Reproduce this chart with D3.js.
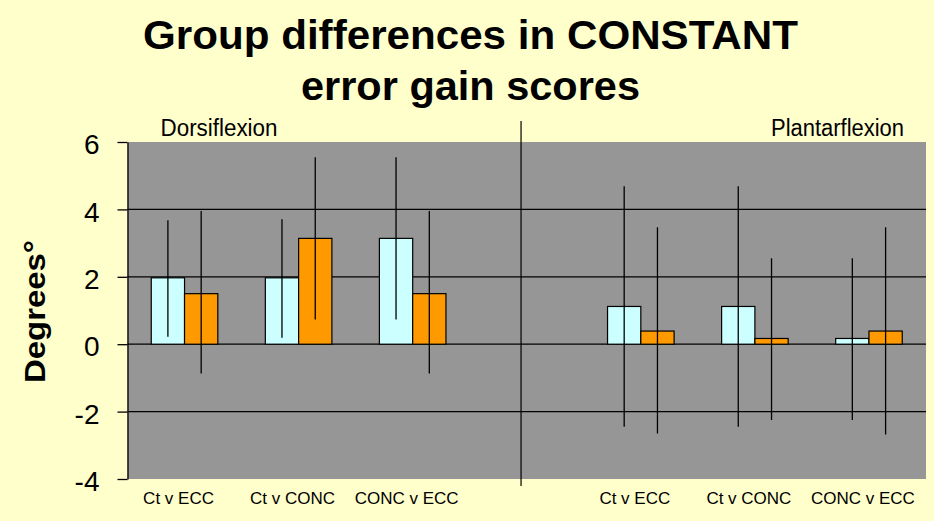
<!DOCTYPE html>
<html>
<head>
<meta charset="utf-8">
<script src="https://cdn.jsdelivr.net/npm/d3@7"></script>
<style>
  html, body { margin: 0; padding: 0; background: #FFFFCC; }
  svg { display: block; font-family: "Liberation Sans", Arial, sans-serif; }
</style>
</head>
<body>
<svg id="chart" width="934" height="521"></svg>
<script>
// ---- data ----
const categories = ["Ct v ECC", "Ct v CONC", "CONC v ECC", "", "Ct v ECC", "Ct v CONC", "CONC v ECC"];
const seriesNames = ["A", "B"];
const valuesA = [1.97, 1.97, 3.14, null, 1.12, 1.12, 0.17];
const upperA  = [3.68, 3.71, 5.55, null, 4.69, 4.69, 2.55];
const lowerA  = [0.22, 0.19, 0.73, null, -2.45, -2.45, -2.25];
const valuesB = [1.50, 3.14, 1.50, null, 0.39, 0.17, 0.39];
const upperB  = [3.95, 5.55, 3.95, null, 3.47, 2.55, 3.47];
const lowerB  = [-0.87, 0.73, -0.87, null, -2.65, -2.25, -2.68];
const yTicks = [-4, -2, 0, 2, 4, 6];
const titleLines = ["Group differences in CONSTANT", "error gain scores"];
const panelLabels = ["Dorsiflexion", "Plantarflexion"];
const yLabel = "Degrees°";

// ---- styles ----
const colors = { A: "#CCFFFF", B: "#FF9900" };
const plotBg = "#969696";

const svg = d3.select("#chart");
const pLeft = 127.5, pRight = 926, pTop = 142, pBottom = 479;

const idx = categories.map((d, i) => i);
const x = d3.scaleBand().domain(idx).range([pLeft, pRight]).paddingInner(0).paddingOuter(0);
const bw = x.bandwidth();
const x1 = d3.scaleBand().domain(seriesNames).range([0, bw]).paddingInner(0).paddingOuter(0.714);
const y = d3.scaleLinear().domain([-4, 6]).range([pBottom, pTop]);

// background plot area
svg.append("rect")
  .attr("x", pLeft).attr("y", y(6))
  .attr("width", pRight - pLeft).attr("height", y(-4) - y(6))
  .attr("fill", plotBg);

// gridlines
svg.append("g").selectAll("line")
  .data(yTicks.filter(t => t > -4 && t < 6))
  .join("line")
  .attr("x1", pLeft).attr("x2", pRight)
  .attr("y1", d => y(d)).attr("y2", d => y(d))
  .attr("stroke", "#000").attr("stroke-width", 1.3);

// y axis
const yAxis = svg.append("g")
  .attr("transform", `translate(${pLeft},0)`)
  .call(d3.axisLeft(y).tickValues(yTicks).tickSize(10).tickSizeOuter(0).tickPadding(18).tickFormat(d3.format("d")));
yAxis.select(".domain").attr("stroke", "#000").attr("stroke-width", 1.3);
yAxis.selectAll(".tick line").attr("stroke", "#000").attr("stroke-width", 1.3);
yAxis.selectAll(".tick text")
  .attr("font-size", 28).attr("fill", "#000")
  .attr("dy", "0.42em")
  .style("font-family", "'Liberation Sans', Arial, sans-serif")
  .text(d => d < 0 ? "-" + Math.abs(d) : d);

// bars
const rows = [];
idx.forEach(i => {
  if (valuesA[i] != null) rows.push({ i, s: "A", v: valuesA[i], hi: upperA[i], lo: lowerA[i] });
  if (valuesB[i] != null) rows.push({ i, s: "B", v: valuesB[i], hi: upperB[i], lo: lowerB[i] });
});

svg.append("g").selectAll("rect")
  .data(rows)
  .join("rect")
  .attr("x", d => x(d.i) + x1(d.s))
  .attr("width", x1.bandwidth())
  .attr("y", d => y(Math.max(0, d.v)))
  .attr("height", d => Math.abs(y(d.v) - y(0)))
  .attr("fill", d => colors[d.s])
  .attr("stroke", "#000").attr("stroke-width", 1.2);

// error bars (no caps)
svg.append("g").selectAll("line")
  .data(rows)
  .join("line")
  .attr("x1", d => x(d.i) + x1(d.s) + x1.bandwidth() / 2)
  .attr("x2", d => x(d.i) + x1(d.s) + x1.bandwidth() / 2)
  .attr("y1", d => y(d.hi)).attr("y2", d => y(d.lo))
  .attr("stroke", "#000").attr("stroke-width", 1.3);

// divider between panels
const divX = x(3) + bw * 0.45;
svg.append("line")
  .attr("x1", divX).attr("x2", divX)
  .attr("y1", 121).attr("y2", 486)
  .attr("stroke", "#000").attr("stroke-width", 1.2);

// x labels
svg.append("g").selectAll("text")
  .data(idx.filter(i => categories[i] !== ""))
  .join("text")
  .attr("x", i => x(i) + bw / 2 - 6)
  .attr("y", 503.5)
  .attr("text-anchor", "middle")
  .attr("font-size", 17)
  .attr("fill", "#000")
  .text(i => categories[i]);

// panel labels
svg.append("text")
  .attr("x", 160.5).attr("y", 136)
  .attr("font-size", 23).attr("fill", "#000")
  .attr("textLength", 117).attr("lengthAdjust", "spacingAndGlyphs")
  .text(panelLabels[0]);
svg.append("text")
  .attr("x", 771).attr("y", 136)
  .attr("font-size", 23).attr("fill", "#000")
  .attr("textLength", 133).attr("lengthAdjust", "spacingAndGlyphs")
  .text(panelLabels[1]);

// title
svg.append("text")
  .attr("x", 143).attr("y", 49)
  .attr("font-size", 40).attr("font-weight", "bold").attr("fill", "#000")
  .attr("textLength", 655).attr("lengthAdjust", "spacingAndGlyphs")
  .text(titleLines[0]);
svg.append("text")
  .attr("x", 301).attr("y", 100)
  .attr("font-size", 40).attr("font-weight", "bold").attr("fill", "#000")
  .attr("textLength", 339).attr("lengthAdjust", "spacingAndGlyphs")
  .text(titleLines[1]);

// y label
svg.append("text")
  .attr("transform", "translate(45,311.5) rotate(-90)")
  .attr("text-anchor", "middle")
  .attr("font-size", 30).attr("font-weight", "bold").attr("fill", "#000")
  .attr("textLength", 143).attr("lengthAdjust", "spacingAndGlyphs")
  .text(yLabel);
</script>
</body>
</html>
